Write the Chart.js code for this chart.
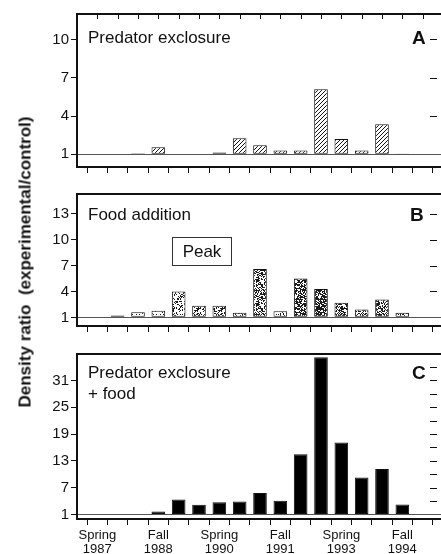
<!DOCTYPE html>
<html>
<head>
<meta charset="utf-8">
<script src="https://cdn.jsdelivr.net/npm/chart.js@4.4.0/dist/chart.umd.min.js"></script>
<style>
  html, body { margin: 0; padding: 0; background: #fff; width: 441px; height: 554px; overflow: hidden; }
  body { position: relative; font-family: "Liberation Sans", Arial, sans-serif; color: #111; }
  .panel { position: absolute; left: 0; }
  .note { position: absolute; font-size: 17px; line-height: 1; white-space: nowrap; }
  .tag { position: absolute; font-size: 19px; font-weight: bold; line-height: 1; }
  #ytitle {
    position: absolute; left: 25px; top: 262px; white-space: pre;
    transform: translate(-50%, -50%) rotate(-90deg);
    font-size: 17px; font-weight: bold; line-height: 1;
  }
  #peak {
    position: absolute; left: 172px; top: 237px; width: 60px; height: 29px;
    border: 1px solid #333; box-sizing: border-box;
    font-size: 17px; line-height: 27px; text-align: center;
  }
</style>
</head>
<body>
<canvas id="panelA" class="panel" width="445" height="175" style="top:0"></canvas>
<canvas id="panelB" class="panel" width="445" height="154" style="top:180px"></canvas>
<canvas id="panelC" class="panel" width="445" height="230" style="top:340px"></canvas>

<div id="ytitle">Density ratio  (experimental/control)</div>
<div class="note" style="left:88px;top:29px">Predator exclosure</div>
<div class="tag" style="left:412px;top:28px">A</div>
<div class="note" style="left:88px;top:206px">Food addition</div>
<div class="tag" style="left:410px;top:205px">B</div>
<div id="peak">Peak</div>
<div class="note" style="left:88px;top:364px">Predator exclosure</div>
<div class="note" style="left:88px;top:385px">+ food</div>
<div class="tag" style="left:412px;top:363px">C</div>

<script>
// seasons, one tick each
const seasons = [
  "Fall 1986", "Spring 1987", "Fall 1987", "Spring 1988", "Fall 1988",
  "Spring 1989", "Fall 1989", "Spring 1990", "Fall 1990", "Spring 1991",
  "Fall 1991", "Spring 1992", "Fall 1992", "Spring 1993", "Fall 1993",
  "Spring 1994", "Fall 1994", "Spring 1995", "Fall 1995"
];
const labelledSeasons = ["Spring 1987", "Fall 1988", "Spring 1990", "Fall 1991", "Spring 1993", "Fall 1994"];

// density ratio (experimental/control), bars start at 1
const predatorRatio = [null, null, 0.96, 1.07, 1.55, 0.96, 0.96, 1.13, 2.25, 1.7, 1.3, 1.3, 6.1, 2.2, 1.3, 3.35, 1.05, null, null];
const foodRatio = [null, null, 1.23, 1.6, 1.77, 4.0, 2.35, 2.35, 1.54, 6.6, 1.7, 5.5, 4.3, 2.7, 1.9, 3.08, 1.54, null, null];
const bothRatio = [null, null, null, null, 1.67, 4.35, 3.2, 3.75, 3.9, 5.8, 4.1, 14.5, 36.2, 17.1, 9.3, 11.2, 3.25, null, null];

// y ticks
const yTicksA = [1, 4, 7, 10];
const yTicksB = [1, 4, 7, 10, 13];
const yTicksC = [1, 4, 7, 10, 13, 16, 19, 22, 25, 28, 31, 34];
const yLabelsC = [1, 7, 13, 19, 25, 31];

// stipple darkness of the food bars (style only)
const foodShade = [0, 0, 0.12, 0.18, 0.16, 0.3, 0.4, 0.36, 0.25, 0.5, 0.3, 0.62, 0.66, 0.55, 0.45, 0.55, 0.35, 0, 0];

Chart.defaults.font.family = '"Liberation Sans", Arial, sans-serif';
Chart.defaults.color = "#111";

function hatch() {
  const n = 4;
  const c = document.createElement("canvas");
  c.width = c.height = n;
  const g = c.getContext("2d");
  g.fillStyle = "#fff";
  g.fillRect(0, 0, n, n);
  g.strokeStyle = "#111";
  g.lineWidth = 1;
  g.beginPath();
  g.moveTo(0, n); g.lineTo(n, 0);
  g.moveTo(-1, 1); g.lineTo(1, -1);
  g.moveTo(n - 1, n + 1); g.lineTo(n + 1, n - 1);
  g.stroke();
  return g.createPattern(c, "repeat");
}

function stipple(density) {
  const n = 24;
  const c = document.createElement("canvas");
  c.width = c.height = n;
  const g = c.getContext("2d");
  g.fillStyle = "#fff";
  g.fillRect(0, 0, n, n);
  g.fillStyle = "#1a1a1a";
  for (let y = 0; y < n; y++) {
    for (let x = 0; x < n; x++) {
      // fixed hash, so the texture is the same every run
      const h = (Math.imul((x * 73856093) ^ (y * 19349663), 2654435761) >>> 0) % 1000;
      if (h / 1000 < density) g.fillRect(x, y, 1, 1);
    }
  }
  return g.createPattern(c, "repeat");
}

// top frame line, inward top ticks (A) and inward right ticks
const framePlugin = {
  id: "frame",
  afterDraw(chart, args, opts) {
    const { ctx, chartArea: a, scales: { x, y } } = chart;
    ctx.save();
    ctx.strokeStyle = "#111";
    ctx.lineWidth = 2;
    ctx.beginPath();
    ctx.moveTo(a.left - 1, a.top);
    ctx.lineTo(a.right, a.top);
    ctx.stroke();
    ctx.lineWidth = 1;
    (opts.rightTicks || []).forEach((v) => {
      const py = Math.round(y.getPixelForValue(v)) + 0.5;
      ctx.beginPath();
      ctx.moveTo(a.right - 13, py);
      ctx.lineTo(a.right - 6, py);
      ctx.stroke();
    });
    if (opts.topTicks) {
      x.ticks.forEach((t, i) => {
        const px = Math.round(x.getPixelForTick(i)) + 0.5;
        ctx.beginPath();
        ctx.moveTo(px, a.top);
        ctx.lineTo(px, a.top + 5);
        ctx.stroke();
      });
    }
    ctx.restore();
  },
};

function makePanel(id, values, fill, cfg) {
  new Chart(document.getElementById(id), {
    type: "bar",
    data: {
      labels: seasons,
      datasets: [{
        data: values,
        base: 1,
        backgroundColor: fill,
        borderColor: "#111",
        borderWidth: 1,
        borderSkipped: false,
        categoryPercentage: 1,
        barPercentage: 0.67,
      }],
    },
    options: {
      responsive: false,
      animation: false,
      layout: { padding: { top: 14, right: 2, left: 0, bottom: 0 } },
      plugins: {
        legend: { display: false },
        tooltip: { enabled: false },
        frame: { rightTicks: cfg.rightTicks, topTicks: cfg.topTicks },
      },
      scales: {
        x: {
          type: "category",
          offset: false,
          grid: { drawOnChartArea: false, tickLength: 6, tickColor: "#111", tickWidth: 1 },
          border: { color: "#111", width: 2 },
          ticks: {
            autoSkip: false,
            maxRotation: 0,
            minRotation: 0,
            padding: 4,
            font: { size: 13, lineHeight: 1.05 },
            color: "#111",
            callback: (v, i) => (cfg.xLabels && labelledSeasons.includes(seasons[i]) ? seasons[i].split(" ") : ""),
          },
          afterFit: (s) => { s.height = cfg.xHeight; s.paddingLeft = 0; s.paddingRight = 0; },
        },
        y: {
          min: 0,
          max: cfg.max,
          afterBuildTicks: (s) => { s.ticks = cfg.ticks.map((v) => ({ value: v })); },
          afterFit: (s) => { s.width = 77; s.paddingTop = 0; s.paddingBottom = 0; },
          grid: {
            drawOnChartArea: true,
            color: (c) => (c.tick && c.tick.value === 1 ? "#555" : "rgba(0,0,0,0)"),
            lineWidth: 1,
            tickLength: 6,
            tickColor: "#111",
            tickWidth: 1,
          },
          border: { color: "#111", width: 2 },
          ticks: {
            padding: 2,
            font: { size: 15 },
            color: "#111",
            callback: (v) => (cfg.labels.includes(v) ? v : ""),
          },
        },
      },
    },
    plugins: [framePlugin],
  });
}

const hatchFill = hatch();
makePanel("panelA", predatorRatio, hatchFill, {
  max: 12, ticks: yTicksA, labels: yTicksA, rightTicks: [4, 7, 10],
  topTicks: true, xHeight: 8, xLabels: false,
});
makePanel("panelB", foodRatio, foodShade.map((d) => stipple(d)), {
  max: 15.3, ticks: yTicksB, labels: yTicksB, rightTicks: [4, 7, 10, 13],
  topTicks: false, xHeight: 8, xLabels: false,
});
makePanel("panelC", bothRatio, "#000", {
  max: 36.9, ticks: yTicksC, labels: yLabelsC, rightTicks: yTicksC.slice(1),
  topTicks: false, xHeight: 51, xLabels: true,
});
</script>
</body>
</html>
